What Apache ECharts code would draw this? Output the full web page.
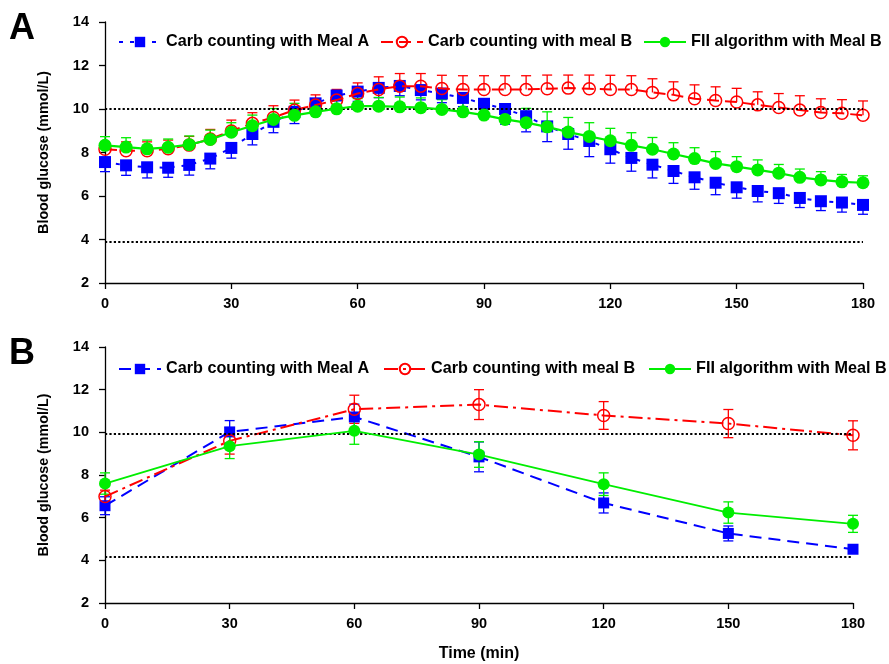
<!DOCTYPE html>
<html>
<head>
<meta charset="utf-8">
<script src="https://cdn.jsdelivr.net/npm/echarts@6/dist/echarts.min.js"></script>
<style>html,body{margin:0;padding:0;background:#fff}#c{width:889px;height:664px}</style>
</head>
<body>
<div id="c"></div>
<script>
// ---- Panel A data (every 5 min) ----
const timesA = [0,5,10,15,20,25,30,35,40,45,50,55,60,65,70,75,80,85,90,95,100,105,110,115,120,125,130,135,140,145,150,155,160,165,170,175,180];
const blueA  = [7.56,7.41,7.32,7.30,7.43,7.72,8.21,8.85,9.41,9.87,10.26,10.62,10.80,10.97,11.06,10.87,10.71,10.51,10.24,10.00,9.67,9.20,8.85,8.53,8.15,7.75,7.44,7.15,6.86,6.61,6.40,6.23,6.13,5.91,5.76,5.70,5.59];
const blueAErr = [0.44,0.46,0.49,0.44,0.47,0.47,0.47,0.50,0.50,0.54,0.50,0.50,0.45,0.45,0.45,0.45,0.42,0.40,0.45,0.70,0.72,0.70,0.70,0.72,0.64,0.61,0.61,0.57,0.55,0.55,0.50,0.50,0.47,0.44,0.43,0.44,0.43];
const redA   = [8.15,8.08,8.08,8.17,8.34,8.62,8.99,9.34,9.61,9.95,10.18,10.41,10.71,10.90,11.05,11.05,10.94,10.90,10.90,10.90,10.90,10.93,10.96,10.93,10.90,10.90,10.76,10.65,10.47,10.39,10.32,10.19,10.07,9.95,9.84,9.80,9.71];
const redAErr = [0.35,0.41,0.41,0.40,0.40,0.44,0.50,0.49,0.54,0.46,0.47,0.49,0.49,0.58,0.58,0.58,0.61,0.63,0.63,0.63,0.63,0.63,0.60,0.63,0.65,0.63,0.63,0.60,0.64,0.63,0.63,0.60,0.64,0.66,0.63,0.63,0.66];
const greenA = [8.33,8.25,8.17,8.24,8.36,8.60,8.93,9.23,9.52,9.71,9.87,10.01,10.13,10.13,10.10,10.06,9.98,9.87,9.72,9.52,9.37,9.18,8.94,8.74,8.54,8.33,8.15,7.93,7.72,7.50,7.35,7.20,7.05,6.86,6.74,6.65,6.61];
const greenAErr = [0.40,0.43,0.40,0.38,0.40,0.43,0.44,0.49,0.50,0.55,0.45,0.40,0.35,0.40,0.45,0.45,0.45,0.45,0.45,0.50,0.66,0.69,0.67,0.63,0.57,0.58,0.54,0.52,0.50,0.54,0.46,0.46,0.40,0.38,0.38,0.34,0.32];

// ---- Panel B data (every 30 min) ----
const timesB = [0,30,60,90,120,150,180];
const blueB  = [6.56,10.02,10.72,8.85,6.69,5.26,4.52];
const blueBErr = [0.42,0.53,0.60,0.70,0.47,0.35,0.15];
const redB   = [6.99,9.60,11.08,11.30,10.79,10.41,9.86];
const redBErr = [0.30,0.62,0.66,0.70,0.65,0.66,0.68];
const greenB = [7.60,9.35,10.07,8.96,7.57,6.24,5.71];
const greenBErr = [0.50,0.58,0.63,0.60,0.53,0.50,0.40];

// reference (target range) lines
const refA = [10.0, 3.9];
const refB = [9.95, 4.15];

const names = ['Carb counting with Meal A','Carb counting with meal B','FII algorithm with Meal B'];

const BLUE = '#0000ff', RED = '#ff0000', GREEN = '#00ee00';
const FONT = 'Liberation Sans, Arial, sans-serif';

function pairs(xs, ys){ return xs.map((x,i)=>[x, ys[i]]); }
function errData(xs, ys, es, up, down){
  return xs.map((x,i)=>[x, down ? ys[i]-es[i] : ys[i], up ? ys[i]+es[i] : ys[i], ys[i]]);
}
function errSeries(data, color, gi, up, down){
  return {
    type:'custom', xAxisIndex:gi, yAxisIndex:gi, silent:true, z:1,
    data: data,
    renderItem: function(params, api){
      const x = api.value(0);
      const lo = api.coord([x, api.value(1)]);
      const hi = api.coord([x, api.value(2)]);
      const hw = 5;
      const st = {stroke: color, lineWidth: 1.3};
      const ch = [{type:'line', shape:{x1:lo[0],y1:lo[1],x2:hi[0],y2:hi[1]}, style:st}];
      if (down) ch.push({type:'line', shape:{x1:lo[0]-hw,y1:lo[1],x2:lo[0]+hw,y2:lo[1]}, style:st});
      if (up) ch.push({type:'line', shape:{x1:hi[0]-hw,y1:hi[1],x2:hi[0]+hw,y2:hi[1]}, style:st});
      return {type:'group', children: ch};
    }
  };
}
function refLine(vals){
  return {
    silent:true, symbol:'none', label:{show:false},
    lineStyle:{type:'dotted', color:'#000', width:2.2},
    emphasis:{disabled:true},
    data: vals.map(v=>({yAxis:v}))
  };
}

const axisLine = {show:true, lineStyle:{color:'#000', width:1.3}};
const axisTick = {show:true, length:6, lineStyle:{color:'#000', width:1.3}};

function xAxis(gi, withName){
  const a = {type:'value', gridIndex:gi, min:0, max:180, interval:30,
    axisLine, axisTick,
    axisLabel:{color:'#000', fontWeight:'bold', fontSize:14.5, fontFamily:FONT, margin:13},
    splitLine:{show:false}};
  if (withName){
    a.name = 'Time (min)'; a.nameLocation='middle'; a.nameGap=43;
    a.nameTextStyle = {color:'#000', fontWeight:'bold', fontSize:16, fontFamily:FONT};
  }
  return a;
}
function yAxis(gi){
  return {type:'value', gridIndex:gi, min:2, max:14, interval:2,
    axisLine, axisTick,
    axisLabel:{color:'#000', fontWeight:'bold', fontSize:14.5, fontFamily:FONT, margin:16},
    splitLine:{show:false},
    name:'Blood glucose (mmol/L)', nameLocation:'middle', nameGap:54,
    nameTextStyle:{color:'#000', fontWeight:'bold', fontSize:14.3, fontFamily:FONT}};
}

const legendText = {color:'#000', fontWeight:'bold', fontSize:16.2, fontFamily:FONT};
function legend(name, left, top){
  return {left:left, top:top, padding:0, itemWidth:42, itemHeight:13, textStyle:legendText,
    data:[{name:name}], selectedMode:false};
}

const option = {
  animation:false,
  backgroundColor:'#fff',
  grid:[
    {left:105, right:26, top:22, height:261},
    {left:105, right:36, top:347, height:256}
  ],
  xAxis:[xAxis(0,false), xAxis(1,true)],
  yAxis:[yAxis(0), yAxis(1)],
  legend:[
    legend(names[0], 118, 34), legend(names[1], 380, 34), legend(names[2], 643, 34),
    legend(names[0]+' ', 118, 361), legend(names[1]+' ', 383, 361), legend(names[2]+' ', 648, 361)
  ],
  graphic:[
    {type:'text', left:9, top:11, style:{text:'A', font:'bold 36px '+FONT, fill:'#000'}},
    {type:'text', left:9, top:336, style:{text:'B', font:'bold 36px '+FONT, fill:'#000'}}
  ],
  series:[
    // Panel A error bars
    errSeries(errData(timesA, blueA, blueAErr, false, true), BLUE, 0, false, true),
    errSeries(errData(timesA, redA, redAErr, true, false), RED, 0, true, false),
    errSeries(errData(timesA, greenA, greenAErr, true, false), GREEN, 0, true, false),
    // Panel A lines
    {name:names[0], type:'line', xAxisIndex:0, yAxisIndex:0, data:pairs(timesA, blueA),
     symbol:'rect', symbolSize:12, z:3,
     lineStyle:{color:BLUE, width:2, type:[4,7]}, itemStyle:{color:BLUE},
     markLine: refLine(refA)},
    {name:names[1], type:'line', xAxisIndex:0, yAxisIndex:0, data:pairs(timesA, redA),
     symbol:'circle', symbolSize:12, z:4,
     lineStyle:{color:RED, width:2, type:[12,6]},
     itemStyle:{color:'rgba(255,255,255,0)', borderColor:RED, borderWidth:1.5}},
    {name:names[2], type:'line', xAxisIndex:0, yAxisIndex:0, data:pairs(timesA, greenA),
     symbol:'circle', symbolSize:13, z:5,
     lineStyle:{color:GREEN, width:2.2, type:'solid'}, itemStyle:{color:GREEN}},
    // Panel B error bars
    errSeries(errData(timesB, blueB, blueBErr, true, true), BLUE, 1, true, true),
    errSeries(errData(timesB, redB, redBErr, true, true), RED, 1, true, true),
    errSeries(errData(timesB, greenB, greenBErr, true, true), GREEN, 1, true, true),
    // Panel B lines
    {name:names[0]+' ', type:'line', xAxisIndex:1, yAxisIndex:1, data:pairs(timesB, blueB),
     symbol:'rect', symbolSize:11, z:3,
     lineStyle:{color:BLUE, width:2, type:[12,7]}, itemStyle:{color:BLUE},
     markLine: refLine(refB)},
    {name:names[1]+' ', type:'line', xAxisIndex:1, yAxisIndex:1, data:pairs(timesB, redB),
     symbol:'circle', symbolSize:12, z:4,
     lineStyle:{color:RED, width:2, type:[14,5,3,5]},
     itemStyle:{color:'rgba(255,255,255,0)', borderColor:RED, borderWidth:1.5}},
    {name:names[2]+' ', type:'line', xAxisIndex:1, yAxisIndex:1, data:pairs(timesB, greenB),
     symbol:'circle', symbolSize:12, z:5,
     lineStyle:{color:GREEN, width:1.8, type:'solid'}, itemStyle:{color:GREEN}}
  ]
};
const chart = echarts.init(document.getElementById('c'), null, {renderer:'canvas'});
chart.setOption(option);
</script>
</body>
</html>
